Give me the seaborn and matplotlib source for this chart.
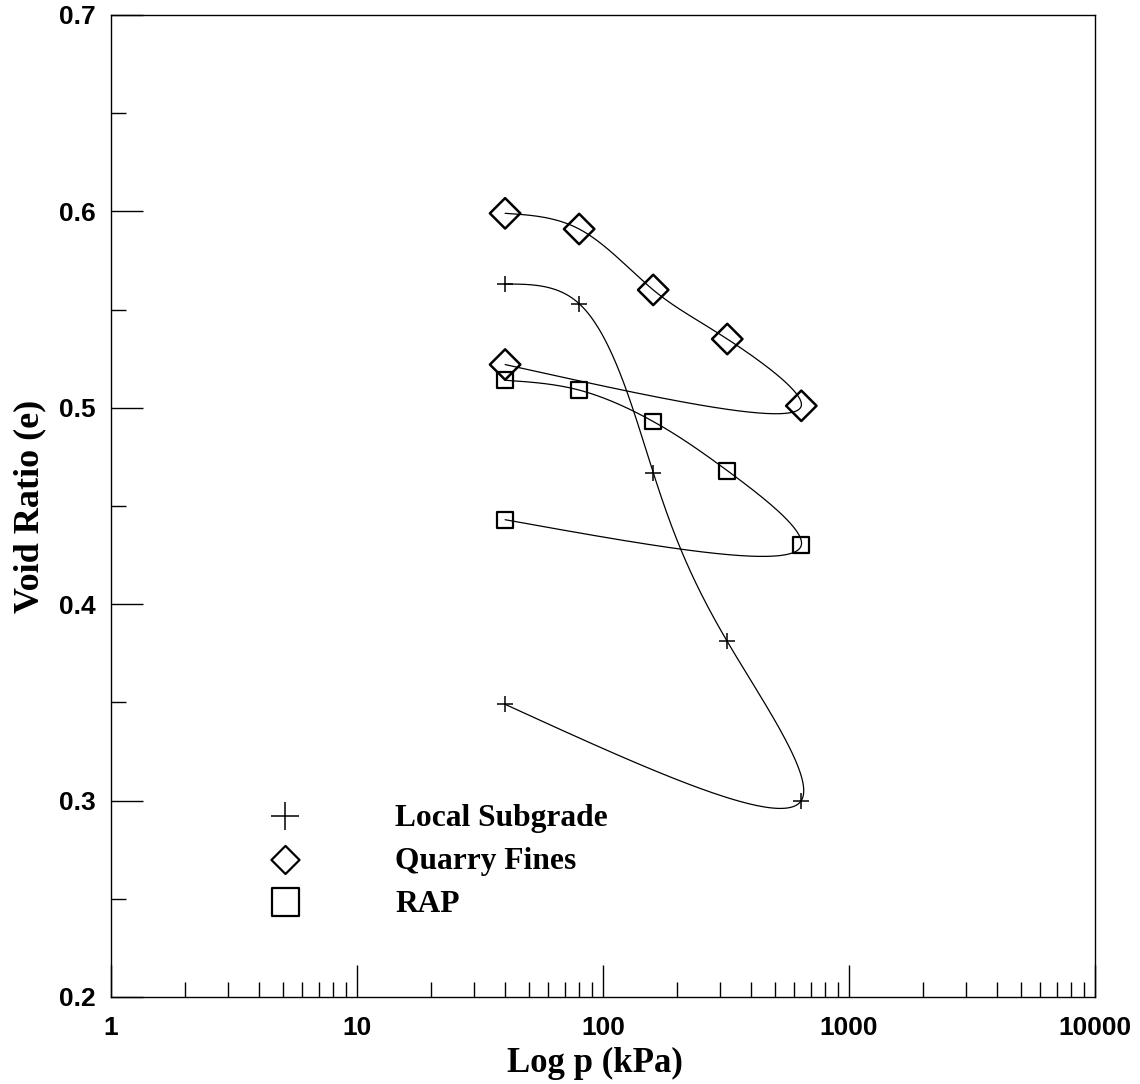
import numpy as np
import pandas as pd
import matplotlib
matplotlib.use("Agg")
import matplotlib.pyplot as plt
from matplotlib.ticker import FixedLocator, NullFormatter
import seaborn as sns

# ---- data ----
pressure = [40, 80, 160, 320, 640, 40]          # kPa (load then unload)
local_subgrade = [0.563, 0.553, 0.467, 0.381, 0.300, 0.349]
quarry_fines = [0.599, 0.591, 0.560, 0.535, 0.501, 0.522]
rap = [0.514, 0.509, 0.493, 0.468, 0.430, 0.443]
series_names = ["Local Subgrade", "Quarry Fines", "RAP"]
x_ticks = [1, 10, 100, 1000, 10000]
x_tick_labels = ["1", "10", "100", "1000", "10000"]
y_ticks = [0.2, 0.3, 0.4, 0.5, 0.6, 0.7]
y_tick_labels = ["0.2", "0.3", "0.4", "0.5", "0.6", "0.7"]

sns.set_theme(style="white")
plt.rcParams["font.family"] = ["Liberation Sans", "DejaVu Sans"]

fig = plt.figure(figsize=(11.4, 10.84), dpi=100)
ax = fig.add_axes([0.0974, 0.0803, 0.8631, 0.9059])


def natural_spline_curve(xs, ys, n=500, alpha=0.5):
    """Smooth parametric natural cubic spline through points (log-x space)."""
    u = np.log10(np.asarray(xs, float)) / 4.0
    w = (np.asarray(ys, float) - 0.2) / 0.5
    d = np.hypot(np.diff(u), np.diff(w)) ** alpha
    t = np.concatenate([[0], np.cumsum(d)])

    def second_derivs(v):
        m = len(t)
        h = np.diff(t)
        A = np.zeros((m, m))
        b = np.zeros(m)
        A[0, 0] = A[-1, -1] = 1.0
        for i in range(1, m - 1):
            A[i, i - 1] = h[i - 1]
            A[i, i] = 2 * (h[i - 1] + h[i])
            A[i, i + 1] = h[i]
            b[i] = 6 * ((v[i + 1] - v[i]) / h[i] - (v[i] - v[i - 1]) / h[i - 1])
        return np.linalg.solve(A, b)

    def evaluate(v, M, tt):
        out = np.empty_like(tt)
        for k, s in enumerate(tt):
            i = min(np.searchsorted(t, s, side="right") - 1, len(t) - 2)
            h = t[i + 1] - t[i]
            a = (t[i + 1] - s) / h
            bb = (s - t[i]) / h
            out[k] = (a * v[i] + bb * v[i + 1]
                      + ((a ** 3 - a) * M[i] + (bb ** 3 - bb) * M[i + 1]) * h * h / 6)
        return out

    tt = np.linspace(0, t[-1], n)
    uu = evaluate(u, second_derivs(u), tt)
    ww = evaluate(w, second_derivs(w), tt)
    return 10 ** (uu * 4.0), ww * 0.5 + 0.2


styles = {
    "Local Subgrade": dict(marker="+", s=11.5 ** 2, linewidths=1.1),
    "Quarry Fines": dict(marker="D", s=15.5 ** 2, linewidths=1.8),
    "RAP": dict(marker="s", s=11.5 ** 2, linewidths=1.6),
}
values = {"Local Subgrade": local_subgrade, "Quarry Fines": quarry_fines, "RAP": rap}

for name in series_names:
    cx, cy = natural_spline_curve(pressure, values[name])
    curve = pd.DataFrame({"p": cx, "e": cy})
    sns.lineplot(data=curve, x="p", y="e", sort=False, estimator=None,
                 color="black", linewidth=0.9, ax=ax)
    pts = pd.DataFrame({"p": pressure, "e": values[name]})
    st = styles[name]
    if st["marker"] == "+":
        sns.scatterplot(data=pts, x="p", y="e", marker="+", s=st["s"],
                        color="black", linewidths=st["linewidths"], ax=ax, zorder=3)
    else:
        sns.scatterplot(data=pts, x="p", y="e", marker=st["marker"], s=st["s"],
                        facecolor="none", edgecolor="black",
                        linewidths=st["linewidths"], ax=ax, zorder=3)

ax.set_xscale("log")
ax.set_xlim(1, 10000)
ax.set_ylim(0.2, 0.7)

ax.xaxis.set_major_locator(FixedLocator(x_ticks))
ax.set_xticklabels(x_tick_labels)
minor_x = [m * 10 ** k for k in range(4) for m in range(2, 10)]
ax.xaxis.set_minor_locator(FixedLocator(minor_x))
ax.xaxis.set_minor_formatter(NullFormatter())
ax.set_yticks(y_ticks)
ax.set_yticklabels(y_tick_labels)
ax.yaxis.set_minor_locator(FixedLocator([0.25, 0.35, 0.45, 0.55, 0.65]))

ax.tick_params(which="both", direction="in", color="black", width=1.0,
               top=False, right=False, left=True, bottom=True)
ax.tick_params(which="major", length=23)
ax.tick_params(which="minor", length=11)
ax.tick_params(axis="x", which="major", pad=14)
ax.tick_params(axis="y", which="major", pad=11)
for lab in ax.get_xticklabels() + ax.get_yticklabels():
    lab.set_fontsize(19)
    lab.set_fontweight("bold")
    lab.set_color("black")
    lab.set_family(["Liberation Sans", "DejaVu Sans"])

for sp in ax.spines.values():
    sp.set_visible(True)
    sp.set_color("black")
    sp.set_linewidth(1.0)

serif = ["Liberation Serif", "DejaVu Serif"]
ax.set_xlabel("Log p (kPa)", fontsize=25, fontweight="bold", family=serif,
              color="black", labelpad=5)
ax.xaxis.label.set_x(0.492)
ax.set_ylabel("Void Ratio (e)", fontsize=26, fontweight="bold", family=serif,
              color="black", labelpad=9)

# ---- legend (manual, in axes fraction) ----
leg_marker_x = 0.1773
leg_text_x = 0.2886
leg_marker_y = [0.1843, 0.1395, 0.0968]
leg_text_y = [0.1741, 0.1303, 0.0866]
leg_styles = [
    dict(marker="+", s=20 ** 2, linewidths=1.1, c="black"),
    dict(marker="D", s=14.3 ** 2, linewidths=1.6, facecolors="none", edgecolors="black"),
    dict(marker="s", s=20 ** 2, linewidths=1.6, facecolors="none", edgecolors="black"),
]
for name, my, ty, st in zip(series_names, leg_marker_y, leg_text_y, leg_styles):
    ax.scatter([leg_marker_x], [my], transform=ax.transAxes, clip_on=False, **st)
    ax.text(leg_text_x, ty, name, transform=ax.transAxes, fontsize=22.7,
            fontweight="bold", family=serif, color="black", va="baseline", ha="left")

fig.savefig("out.png", dpi=100, facecolor="white")
